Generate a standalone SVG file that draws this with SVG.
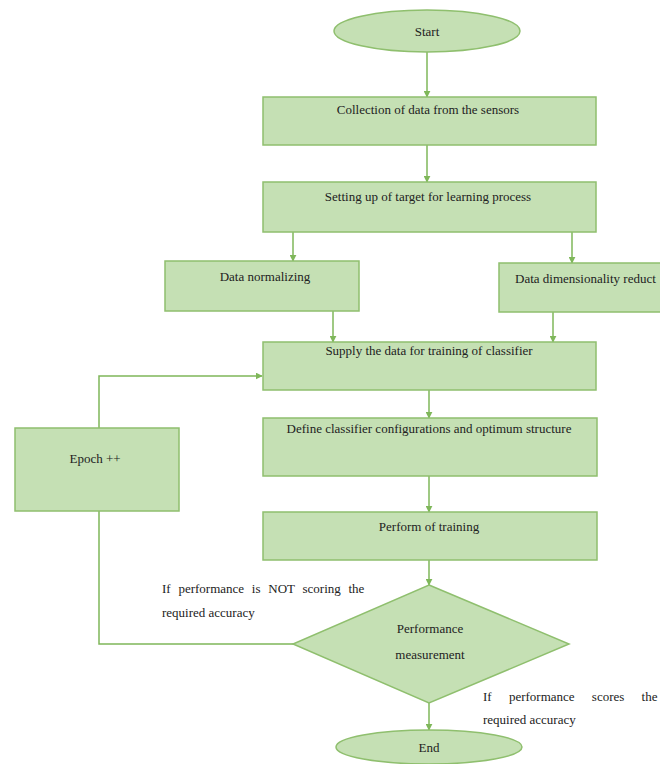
<svg xmlns="http://www.w3.org/2000/svg" width="660" height="764" viewBox="0 0 660 764">
<style>
.n{fill:#c5e0b4;stroke:#8fbf6e;stroke-width:1.5}
.t{font-family:"Liberation Serif","Times New Roman",serif;font-size:13px;fill:#222;text-anchor:middle}
.l{font-family:"Liberation Serif","Times New Roman",serif;font-size:13px;fill:#222}
.c{fill:none;stroke:#7fb75a;stroke-width:1.5}
</style>
<defs>
<marker id="ah" viewBox="0 0 10 10" refX="9" refY="5" markerWidth="7" markerHeight="7" orient="auto" markerUnits="userSpaceOnUse">
<path d="M0,0 L10,5 L0,10 z" fill="#7fb75a"/>
</marker>
</defs>
<rect width="660" height="764" fill="#ffffff"/>
<g id="connectors">
<line class="c" x1="427" y1="52" x2="427" y2="97" marker-end="url(#ah)"/>
<line class="c" x1="427" y1="145" x2="427" y2="182" marker-end="url(#ah)"/>
<line class="c" x1="293" y1="232" x2="293" y2="261" marker-end="url(#ah)"/>
<line class="c" x1="572" y1="232" x2="572" y2="263" marker-end="url(#ah)"/>
<line class="c" x1="333" y1="311" x2="333" y2="342" marker-end="url(#ah)"/>
<line class="c" x1="553" y1="312" x2="553" y2="342" marker-end="url(#ah)"/>
<line class="c" x1="429" y1="390" x2="429" y2="418" marker-end="url(#ah)"/>
<line class="c" x1="429" y1="476" x2="429" y2="512" marker-end="url(#ah)"/>
<line class="c" x1="429" y1="560" x2="429" y2="585" marker-end="url(#ah)"/>
<line class="c" x1="429" y1="703" x2="429" y2="730" marker-end="url(#ah)"/>
<polyline class="c" points="99,428 99,376 262,376" marker-end="url(#ah)"/>
<polyline class="c" points="293,644 99,644 99,511"/>
</g>
<g id="start">
<ellipse class="n" cx="427" cy="31" rx="93" ry="21"/>
<text class="t" x="427" y="36">Start</text>
</g>
<g id="collection">
<rect class="n" x="263" y="97" width="333" height="48"/>
<text class="t" x="428" y="114">Collection  of data from the sensors</text>
</g>
<g id="setting">
<rect class="n" x="263" y="182" width="333" height="50"/>
<text class="t" x="428" y="201">Setting  up of target for learning  process</text>
</g>
<g id="normalizing">
<rect class="n" x="165" y="261" width="194" height="50"/>
<text class="t" x="265" y="281">Data normalizing</text>
</g>
<g id="dimensionality">
<rect class="n" x="499" y="263" width="200" height="49"/>
<text class="l" x="515" y="283">Data dimensionality reduct</text>
</g>
<g id="supply">
<rect class="n" x="263" y="342" width="333" height="48"/>
<text class="t" x="429" y="355">Supply the data for training  of classifier</text>
</g>
<g id="define">
<rect class="n" x="263" y="418" width="334" height="58"/>
<text class="t" x="429" y="433">Define classifier configurations and optimum structure</text>
</g>
<g id="perform">
<rect class="n" x="263" y="512" width="334" height="48"/>
<text class="t" x="429" y="531">Perform of training</text>
</g>
<g id="epoch">
<rect class="n" x="15" y="428" width="164" height="83"/>
<text class="t" x="95" y="463">Epoch ++</text>
</g>
<g id="decision">
<polygon class="n" points="429,585 569,644 429,703 293,644"/>
<text class="t" x="430" y="633">Performance</text>
<text class="t" x="430" y="659">measurement</text>
</g>
<g id="end">
<ellipse class="n" cx="429" cy="747" rx="93" ry="17"/>
<text class="t" x="429" y="752">End</text>
</g>
<g id="labels">
<text class="l" x="162" y="593" word-spacing="4.5">If performance is NOT scoring the</text>
<text class="l" x="162" y="617">required accuracy</text>
<text class="l" x="483" y="701" word-spacing="14">If performance scores the</text>
<text class="l" x="483" y="724">required accuracy</text>
</g>
</svg>
